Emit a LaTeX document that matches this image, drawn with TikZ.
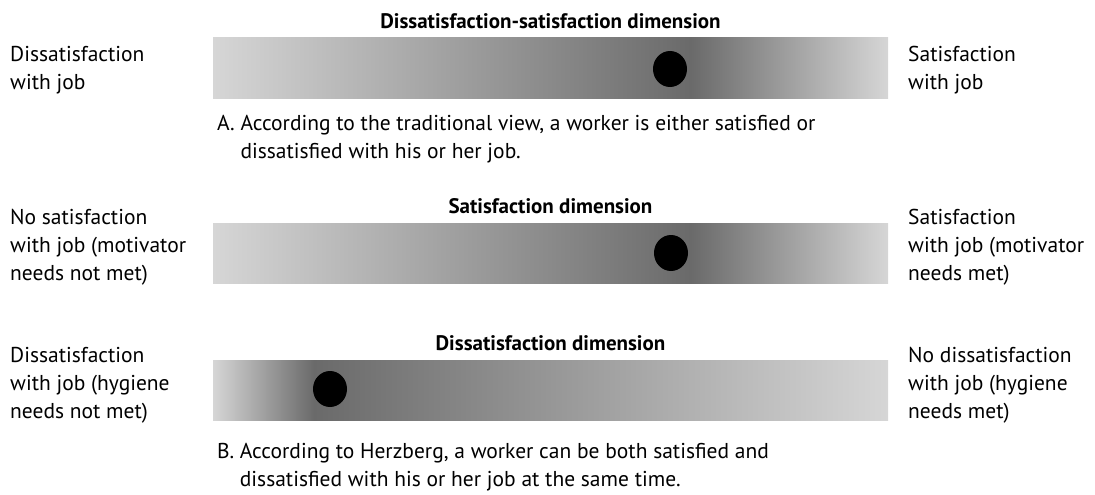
\documentclass[tikz,border=0pt]{standalone}
\usepackage{fontspec}
\setmainfont{PT Sans}
\usepackage{tikz}
\usetikzlibrary{positioning,shapes.geometric}
\definecolor{barlight}{RGB}{214,214,214}
\definecolor{bardark}{RGB}{106,106,106}
% shadings: darkest band near the right / near the left
\pgfdeclarehorizontalshading{peakright}{100bp}{color(0bp)=(barlight); color(25bp)=(barlight);
  color(60.4bp)=(bardark); color(75bp)=(barlight); color(100bp)=(barlight)}
\pgfdeclarehorizontalshading{peakleft}{100bp}{color(0bp)=(barlight); color(25bp)=(barlight);
  color(32.5bp)=(bardark); color(75bp)=(barlight); color(100bp)=(barlight)}
\tikzset{
  dimbar/.style={rectangle, inner sep=0pt,
    minimum width=675pt, minimum height=60pt},
  dimtitle/.style={font=\bfseries\fontsize{21}{28}\selectfont, inner sep=0pt},
  sidelabel/.style={font=\fontsize{21.5}{28}\selectfont, align=left,
    anchor=north west, inner sep=0pt},
  caption/.style={font=\fontsize{21.5}{28}\selectfont, align=left, inner sep=0pt},
  marker/.style={ellipse, fill=black, inner sep=0pt,
    minimum width=34pt, minimum height=36pt},
}

\begin{document}
\begin{tikzpicture}[x=1pt, y=-1pt]
  \useasboundingbox (0,0) rectangle (1095,495);

  % the three bars
  \node[dimbar, shading=peakright] (dsbar) at (550.5,68) {};
  \node[dimbar, shading=peakright] (satbar) at (550.5,253) {};
  \node[dimbar, shading=peakleft] (disbar) at (550.5,390) {};

  \node[dimtitle, above=9pt of dsbar, anchor=base]
    (dstitle) {Dissatisfaction-satisfaction dimension};
  \node[dimtitle, above=9pt of satbar, anchor=base]
    (sattitle) {Satisfaction dimension};
  \node[dimtitle, above=9pt of disbar, anchor=base]
    (distitle) {Dissatisfaction dimension};

  % markers
  \node[marker] (dsdot) at (670,69) {};
  \node[marker] (satdot) at (671,253) {};
  \node[marker] (disdot) at (330,389) {};

  % side labels
  \node[sidelabel] (dsleft) at (10,46) {Dissatisfaction\\with job};
  \node[sidelabel] (dsright) at (908,46) {Satisfaction\\with job};
  \node[sidelabel] (satleft) at (10,209)
    {No satisfaction\\with job (motivator\\needs not met)};
  \node[sidelabel] (satright) at (908,209)
    {Satisfaction\\with job (motivator\\needs met)};
  \node[sidelabel] (disleft) at (10,347)
    {Dissatisfaction\\with job (hygiene\\needs not met)};
  \node[sidelabel] (disright) at (908,347)
    {No dissatisfaction\\with job (hygiene\\needs met)};

  % captions
  \node[caption, below right=17pt and 4pt of dsbar.south west, anchor=north west]
    (capA) {A. According to the traditional view, a worker is either satisfied or\\
    \hphantom{A.\ }dissatisfied with his or her job.};
  \node[caption, below right=23pt and 4pt of disbar.south west, anchor=north west]
    (capB) {B. According to Herzberg, a worker can be both satisfied and\\
    \hphantom{B.\ }dissatisfied with his or her job at the same time.};
\end{tikzpicture}
\end{document}
